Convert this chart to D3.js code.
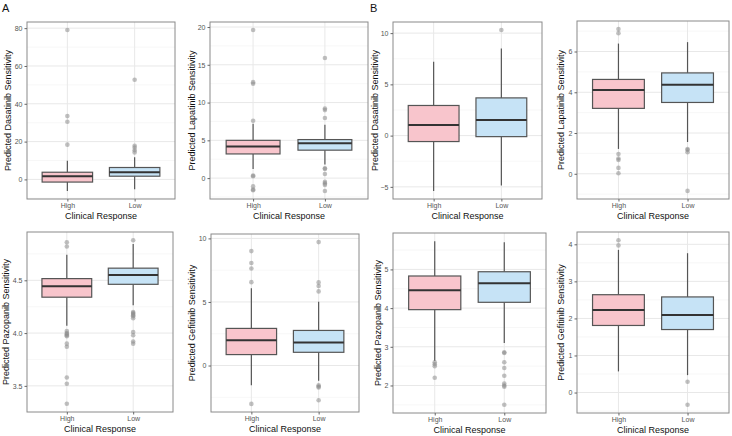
<!DOCTYPE html>
<html>
<head>
<meta charset="utf-8">
<script src="https://cdn.jsdelivr.net/npm/d3@7"></script>
<style>
  html, body { margin: 0; padding: 0; background: #fff; }
  svg { display: block; font-family: "Liberation Sans", Arial, sans-serif; }
</style>
</head>
<body>
<svg id="chart" width="732" height="436"></svg>
<script>
// ---------- DATA ----------
const categories = ["High", "Low"];
const xTitle = "Clinical Response";
const panelLabels = ["A", "B"];

// box stats per category: [lower whisker, Q1, median, Q3, upper whisker]
const dasatinibA_stats = [[-6.1, -1.4, 1.7, 3.8, 9.9], [-5.2, 1.7, 3.8, 6.3, 11.7]];
const dasatinibA_out = [[79, 33.5, 30.5, 18.4], [52.7, 17.8, 16.8, 15.4, 14.3]];
const dasatinibA_ticks = [0, 20, 40, 60, 80];

const lapatinibA_stats = [[1.2, 3.2, 4.2, 5.0, 7.2], [1.8, 3.7, 4.6, 5.1, 7.05]];
const lapatinibA_out = [[19.6, 12.7, 12.5, 7.6, 0.35, 0.25, -1.1, -1.5, -1.6],
                        [15.9, 9.2, 9.0, 7.95, 1.3, 1.2, 0.55, -0.5, -0.7, -0.9, -1.7]];
const lapatinibA_ticks = [0, 5, 10, 15, 20];

const dasatinibB_stats = [[-5.4, -0.58, 1.03, 2.94, 7.2], [-4.87, -0.1, 1.52, 3.68, 8.5]];
const dasatinibB_out = [[], [10.3]];
const dasatinibB_ticks = [-5, 0, 5, 10];

const lapatinibB_stats = [[1.22, 3.21, 4.11, 4.63, 6.39], [1.56, 3.5, 4.37, 4.95, 6.46]];
const lapatinibB_out = [[7.1, 6.9, 0.97, 0.75, 0.68, 0.29, 0.03], [1.22, 1.17, 1.06, -0.84]];
const lapatinibB_ticks = [0, 2, 4, 6];

const pazopanibA_stats = [[4.07, 4.34, 4.443, 4.516, 4.742], [4.264, 4.462, 4.551, 4.615, 4.844]];
const pazopanibA_out = [[4.86, 4.82, 4.02, 4.0, 3.99, 3.98, 3.97, 3.9, 3.87, 3.58, 3.52, 3.33],
                        [4.88, 4.2, 4.19, 4.18, 4.17, 4.16, 4.14, 4.01, 3.98, 3.92, 3.9]];
const pazopanibA_ticks = [3.5, 4.0, 4.5];

const gefitinibA_stats = [[-1.56, 0.86, 1.98, 2.92, 6.07], [-1.2, 1.04, 1.82, 2.76, 5.02]];
const gefitinibA_out = [[9.0, 8.07, 7.63, 6.56, -3.02], [9.71, 6.54, 6.25, 5.83, -1.55, -1.65, -1.72, -2.73]];
const gefitinibA_ticks = [0, 5, 10];

const pazopanibB_stats = [[2.63, 3.96, 4.46, 4.83, 5.73], [3.1, 4.15, 4.64, 4.94, 5.7]];
const pazopanibB_out = [[2.6, 2.55, 2.5, 2.2], [2.86, 2.84, 2.6, 2.45, 2.25, 2.05, 2.0, 1.97, 1.5]];
const pazopanibB_ticks = [2, 3, 4, 5];

const gefitinibB_stats = [[0.57, 1.81, 2.23, 2.64, 3.85], [0.47, 1.7, 2.09, 2.58, 3.76]];
const gefitinibB_out = [[4.11, 3.97], [0.29, -0.33]];
const gefitinibB_ticks = [0, 1, 2, 3, 4];

const yTitles = ["Predicted Dasatinib Sensitivity", "Predicted Lapatinib Sensitivity",
                 "Predicted Dasatinib Sensitivity", "Predicted Lapatinib Sensitivity",
                 "Predicted Pazopanib Sensitivity", "Predicted Gefitinib Sensitivity",
                 "Predicted Pazopanib Sensitivity", "Predicted Gefitinib Sensitivity"];

// ---------- LAYOUT ----------
const layout = [
  { l: 27,  r: 175, t: 22,  b: 199, tx: 8 },
  { l: 210, r: 368, t: 22,  b: 199, tx: 192 },
  { l: 393, r: 542, t: 22,  b: 199, tx: 375 },
  { l: 577, r: 729, t: 21,  b: 199, tx: 561 },
  { l: 27,  r: 173, t: 232, b: 412, tx: 6 },
  { l: 211, r: 359, t: 234, b: 412, tx: 192 },
  { l: 393, r: 546, t: 233, b: 413, tx: 378 },
  { l: 577, r: 729, t: 232, b: 413, tx: 561 }
];

const panelData = [
  [dasatinibA_stats, dasatinibA_out, dasatinibA_ticks, 0],
  [lapatinibA_stats, lapatinibA_out, lapatinibA_ticks, 0],
  [dasatinibB_stats, dasatinibB_out, dasatinibB_ticks, 0],
  [lapatinibB_stats, lapatinibB_out, lapatinibB_ticks, 0],
  [pazopanibA_stats, pazopanibA_out, pazopanibA_ticks, 1],
  [gefitinibA_stats, gefitinibA_out, gefitinibA_ticks, 0],
  [pazopanibB_stats, pazopanibB_out, pazopanibB_ticks, 0],
  [gefitinibB_stats, gefitinibB_out, gefitinibB_ticks, 0]
];

const fills = ["#f8c5cc", "#c6e3f6"];
const svg = d3.select("#chart");

panelData.forEach((pd, i) => {
  const [stats, outs, ticks, decimals] = pd;
  const L = layout[i];
  const allVals = stats.flat().concat(outs.flat());
  const mn = d3.min(allVals), mx = d3.max(allVals);
  const pad = (mx - mn) * 0.05;
  const y = d3.scaleLinear().domain([mn - pad, mx + pad]).range([L.b, L.t]);
  const x = d3.scaleLinear().domain([0.4, 2.6]).range([L.l, L.r]);
  const g = svg.append("g");

  // minor grid
  const minor = [];
  const step = ticks[1] - ticks[0];
  const first = ticks[0] - step;
  for (let k = 0; k <= ticks.length; k++) {
    const v = first + step * k + step / 2;
    if (v > y.domain()[0] && v < y.domain()[1]) minor.push(v);
  }
  g.selectAll(".mg").data(minor).enter().append("line")
    .attr("x1", L.l).attr("x2", L.r)
    .attr("y1", d => y(d)).attr("y2", d => y(d))
    .attr("stroke", "#f2f2f2").attr("stroke-width", 0.6);
  // major grid
  g.selectAll(".Mg").data(ticks).enter().append("line")
    .attr("x1", L.l).attr("x2", L.r)
    .attr("y1", d => y(d)).attr("y2", d => y(d))
    .attr("stroke", "#e8e8e8").attr("stroke-width", 1);
  g.selectAll(".Mgx").data([1, 2]).enter().append("line")
    .attr("x1", d => x(d)).attr("x2", d => x(d))
    .attr("y1", L.t).attr("y2", L.b)
    .attr("stroke", "#e8e8e8").attr("stroke-width", 1);

  // boxes
  stats.forEach((s, c) => {
    const cx = x(c + 1);
    const hw = (x(1.375) - x(1));
    g.append("line").attr("x1", cx).attr("x2", cx)
      .attr("y1", y(s[0])).attr("y2", y(s[1]))
      .attr("stroke", "#555").attr("stroke-width", 1.2);
    g.append("line").attr("x1", cx).attr("x2", cx)
      .attr("y1", y(s[3])).attr("y2", y(s[4]))
      .attr("stroke", "#555").attr("stroke-width", 1.2);
    g.append("rect").attr("x", cx - hw).attr("width", hw * 2)
      .attr("y", y(s[3])).attr("height", y(s[1]) - y(s[3]))
      .attr("fill", fills[c]).attr("stroke", "#555").attr("stroke-width", 1.2);
    g.append("line").attr("x1", cx - hw).attr("x2", cx + hw)
      .attr("y1", y(s[2])).attr("y2", y(s[2]))
      .attr("stroke", "#333").attr("stroke-width", 2);
    g.selectAll(null).data(outs[c]).enter().append("circle")
      .attr("cx", cx).attr("cy", d => y(d)).attr("r", 2.3)
      .attr("fill", "#8c8c8c").attr("fill-opacity", 0.55);
  });

  // border
  g.append("rect").attr("x", L.l).attr("y", L.t)
    .attr("width", L.r - L.l).attr("height", L.b - L.t)
    .attr("fill", "none").attr("stroke", "#8a8a8a").attr("stroke-width", 1);

  // y axis
  const yAxis = d3.axisLeft(y).tickValues(ticks).tickSize(2.5).tickPadding(2)
    .tickFormat(d => d3.format("." + decimals + "f")(d));
  const ya = g.append("g").attr("transform", `translate(${L.l},0)`).call(yAxis);
  ya.select(".domain").remove();
  ya.selectAll("line").attr("stroke", "#666");
  ya.selectAll("text").attr("fill", "#555").attr("font-size", 7)
    .attr("font-family", "Liberation Sans, Arial, sans-serif");

  // x axis
  const xAxis = d3.axisBottom(x).tickValues([1, 2]).tickSize(2.5).tickPadding(1.5)
    .tickFormat(d => categories[d - 1]);
  const xa = g.append("g").attr("transform", `translate(0,${L.b})`).call(xAxis);
  xa.select(".domain").remove();
  xa.selectAll("line").attr("stroke", "#666");
  xa.selectAll("text").attr("fill", "#555").attr("font-size", 7)
    .attr("font-family", "Liberation Sans, Arial, sans-serif");

  // titles
  g.append("text").attr("x", (L.l + L.r) / 2).attr("y", L.b + 20)
    .attr("text-anchor", "middle").attr("font-size", 9).attr("fill", "#111")
    .text(xTitle);
  g.append("text")
    .attr("transform", `translate(${L.tx},${(L.t + L.b) / 2}) rotate(-90)`)
    .attr("text-anchor", "middle").attr("dy", "0.35em")
    .attr("font-size", 9).attr("fill", "#111")
    .text(yTitles[i]);
});

// panel tags
svg.append("text").attr("x", 2).attr("y", 12).attr("font-size", 11).attr("fill", "#111").text(panelLabels[0]);
svg.append("text").attr("x", 370).attr("y", 12).attr("font-size", 11).attr("fill", "#111").text(panelLabels[1]);
</script>
</body>
</html>
